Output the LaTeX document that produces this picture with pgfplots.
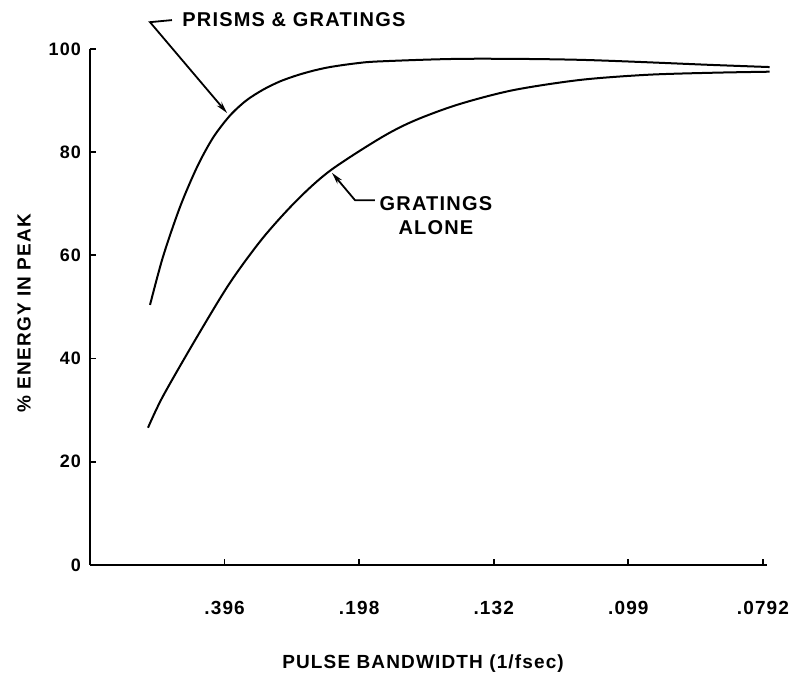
\documentclass[border=0pt]{standalone}
\usepackage{pgfplots}
\pgfplotsset{compat=1.18}
\usepackage{fontspec}
\setmainfont{Liberation Sans}
\newfontfamily\lab[LetterSpace=6]{Liberation Sans}
\usetikzlibrary{arrows.meta}
\begin{document}
\begin{tikzpicture}
\path[use as bounding box] (-45pt,-59.5pt) rectangle (354.5pt,282.5pt);
\begin{axis}[
  at={(0,0)}, anchor=south west,
  scale only axis,
  width=338.5pt, height=258pt,
  xmin=0, xmax=5.03, ymin=0, ymax=100,
  axis lines*=left,
  axis line style={-, line width=1pt},
  tick align=inside,
  major tick length=3pt,
  tick style={line width=0.9pt, black},
  xtick={1,2,3,4,5},
  xticklabels={.396,.198,.132,.099,.0792},
  ytick={0,20,40,60,80,100},
  /pgf/number format/assume math mode=true,
  xticklabel style={font=\lab\bfseries\fontsize{9.5}{11}\selectfont, anchor=center, yshift=-21.5pt},
  yticklabel style={font=\lab\bfseries\fontsize{9}{11}\selectfont, xshift=-1pt},
  xlabel={PULSE BANDWIDTH (1/fsec)},
  ylabel={\% ENERGY IN PEAK},
  label style={font=\lab\bfseries\fontsize{9.5}{11}\selectfont},
  xlabel style={at={(axis description cs:0.492,-0.1905)}, anchor=center},
  ylabel style={at={(axis description cs:-0.0975,0.488)}, anchor=center, rotate=0},
  clip=false,
]
\addplot[black, line width=1pt, smooth] coordinates {
(0.446,50.4) (0.542,59.7) (0.669,69.4) (0.795,77.1) (0.914,82.8) (1.040,87.1)
(1.16,90.0) (1.285,92.1) (1.41,93.7) (1.538,94.9) (1.66,95.8) (1.783,96.5)
(1.97,97.2) (2.155,97.6) (2.786,98.1) (3.64,97.9) (4.63,96.9) (5.05,96.5)};
\addplot[black, line width=1pt, smooth] coordinates {
(0.431,26.6) (0.542,32.7) (0.795,44.2) (1.04,54.7) (1.285,63.4) (1.538,70.7)
(1.783,76.4) (2.155,82.7) (2.40,86.0) (2.73,89.2) (3.14,92.0) (3.64,94.0)
(4.14,95.0) (4.63,95.4) (5.05,95.6)};
% annotations
\draw[line width=0.9pt, -{Stealth[length=6pt,width=3pt]}]
  (axis cs:0.609,105.6) -- (axis cs:0.446,105.2) -- (axis cs:1.018,87.6);
\node[anchor=west, font=\lab\bfseries\fontsize{10}{12}\selectfont, inner sep=0pt]
  at (axis cs:0.683,105.6) {PRISMS \& GRATINGS};
\draw[line width=0.9pt, -{Stealth[length=6pt,width=3pt]}]
  (axis cs:2.117,70.7) -- (axis cs:1.969,70.7) -- (axis cs:1.798,76.0);
\node[align=center, font=\lab\bfseries\fontsize{10}{12}\selectfont, inner sep=0pt]
  at (axis cs:2.57,67.8) {GRATINGS\\ALONE};
\end{axis}
\end{tikzpicture}
\end{document}
